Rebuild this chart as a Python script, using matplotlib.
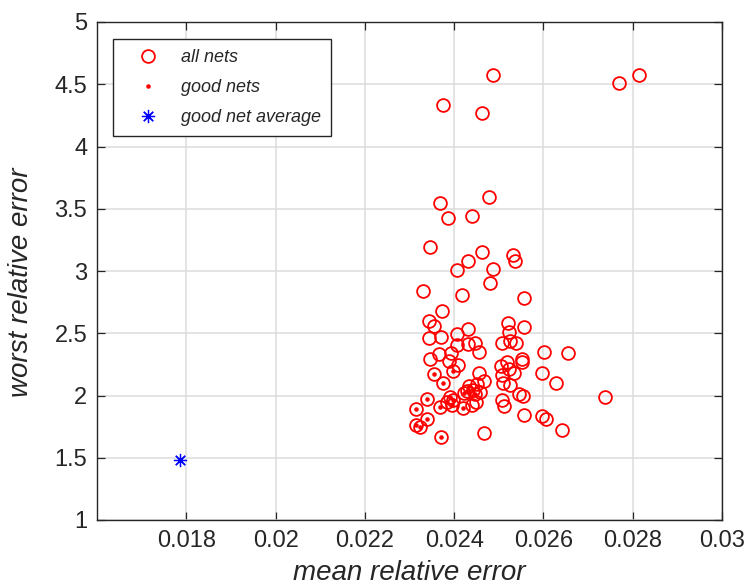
import numpy as np
import matplotlib
matplotlib.use("Agg")
import matplotlib.pyplot as plt

plt.rcParams['font.family'] = ['Liberation Sans', 'DejaVu Sans']

# mean / worst relative error for every trained net
all_mean = [0.02369, 0.02479, 0.02386, 0.02439, 0.02346, 0.02462, 0.02430, 0.02532,
            0.02537, 0.02407, 0.02487, 0.02481, 0.02330, 0.02418, 0.02556, 0.02372,
            0.02344, 0.02354, 0.02431, 0.02520, 0.02557, 0.02523, 0.02344, 0.02370,
            0.02407, 0.02406, 0.02431, 0.02447, 0.02456, 0.02508, 0.02525, 0.02539,
            0.02602, 0.02654, 0.02366, 0.02393, 0.02346, 0.02388, 0.02408, 0.02398,
            0.02552, 0.02553, 0.02519, 0.02504, 0.02522, 0.02534, 0.02508, 0.02456,
            0.02354, 0.02596, 0.02374, 0.02466, 0.02451, 0.02509, 0.02525, 0.02628,
            0.02434, 0.02428, 0.02457, 0.02442, 0.02423, 0.02446, 0.02391, 0.02398,
            0.02384, 0.02395, 0.02339, 0.02369, 0.02420, 0.02440, 0.02449, 0.02508,
            0.02512, 0.02546, 0.02555, 0.02739, 0.02314, 0.02340, 0.02314, 0.02324,
            0.02370, 0.02466, 0.02556, 0.02597, 0.02605, 0.02641, 0.02488, 0.02376,
            0.02463, 0.02770, 0.02813]
all_worst = [3.546, 3.597, 3.425, 3.444, 3.196, 3.156, 3.083, 3.126,
             3.080, 3.010, 3.013, 2.900, 2.840, 2.810, 2.785, 2.675,
             2.600, 2.556, 2.535, 2.583, 2.551, 2.510, 2.460, 2.470,
             2.490, 2.406, 2.417, 2.425, 2.350, 2.420, 2.435, 2.420,
             2.352, 2.341, 2.336, 2.344, 2.293, 2.277, 2.242, 2.194,
             2.290, 2.269, 2.269, 2.236, 2.210, 2.183, 2.167, 2.183,
             2.170, 2.180, 2.100, 2.116, 2.089, 2.102, 2.086, 2.097,
             2.073, 2.035, 2.032, 2.046, 2.020, 2.013, 1.986, 1.960,
             1.946, 1.920, 1.973, 1.906, 1.898, 1.927, 1.946, 1.965,
             1.917, 2.010, 1.995, 1.990, 1.893, 1.809, 1.764, 1.745,
             1.669, 1.700, 1.844, 1.833, 1.812, 1.720, 4.578, 4.330,
             4.266, 4.514, 4.573]

# nets that passed the selection
good_mean = [0.02398, 0.02354, 0.02374, 0.02339, 0.02369, 0.02420, 0.02314, 0.02340,
             0.02314, 0.02324, 0.02370, 0.02391, 0.02398, 0.02384, 0.02395, 0.02434,
             0.02428, 0.02442, 0.02423, 0.02446]
good_worst = [2.194, 2.170, 2.100, 1.973, 1.906, 1.898, 1.893, 1.809,
              1.764, 1.745, 1.669, 1.986, 1.960, 1.946, 1.920, 2.073,
              2.035, 2.046, 2.020, 2.013]

avg_mean = [0.01785]
avg_worst = [1.478]

xticks = [0.018, 0.02, 0.022, 0.024, 0.026, 0.028, 0.03]
xticklabels = ['0.018', '0.02', '0.022', '0.024', '0.026', '0.028', '0.03']
yticks = [1, 1.5, 2, 2.5, 3, 3.5, 4, 4.5, 5]
yticklabels = ['1', '1.5', '2', '2.5', '3', '3.5', '4', '4.5', '5']

W, H = 750, 585
fig = plt.figure(figsize=(W / 100, H / 100), dpi=100)
ax = fig.add_axes([97 / W, 1 - 520 / H, 625 / W, 498 / H])

ax.plot(all_mean, all_worst, 'o', ls='none', mfc='none', mec='red', ms=9.2, mew=1.3,
        label='all nets')
ax.plot(good_mean, good_worst, '.', ls='none', color='red', ms=4.5, label='good nets')
ax.plot(avg_mean, avg_worst, ls='none', marker=(8, 2, 0), color='blue', ms=9.5, mew=0.9,
        label='good net average')

ax.set_xlim(0.016, 0.030)
ax.set_ylim(1, 5)
ax.set_xticks(xticks)
ax.set_xticklabels(xticklabels)
ax.set_yticks(yticks)
ax.set_yticklabels(yticklabels)

ax.grid(True, color='#dcdcdc', lw=1.1)
ax.set_axisbelow(True)
for s in ax.spines.values():
    s.set_color('#262626')
    s.set_linewidth(1.0)
ax.tick_params(direction='in', length=6, width=0.9, color='#262626', labelsize=17,
               labelcolor='#262626', top=True, right=True, pad=7)

ax.set_xlabel('mean relative error', fontsize=20, style='italic', color='#262626',
              labelpad=6)
ax.set_ylabel('worst relative error', fontsize=20, style='italic', color='#262626')
ax.yaxis.set_label_coords(-0.1, 0.478)

leg = ax.legend(loc='upper left', bbox_to_anchor=(113 / W, 1 - 39 / H),
                bbox_transform=fig.transFigure, prop={'style': 'italic', 'size': 13},
                fancybox=False, edgecolor='#262626', framealpha=1,
                borderpad=0.55, labelspacing=0.72, handlelength=2.8,
                handletextpad=0.42, borderaxespad=0)
leg.get_frame().set_linewidth(1.0)
for t in leg.get_texts():
    t.set_color('#262626')

fig.savefig('out.png', dpi=100)
